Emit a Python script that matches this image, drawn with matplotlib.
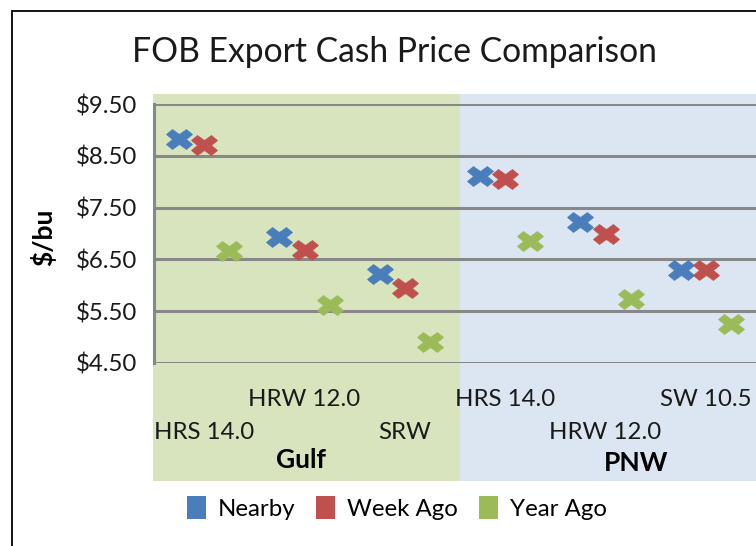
import matplotlib
matplotlib.use('Agg')
import matplotlib.pyplot as plt
from matplotlib.patches import Rectangle, Patch
from matplotlib.markers import MarkerStyle
from matplotlib.transforms import Affine2D

plt.rcParams['font.family'] = ['Lato', 'DejaVu Sans']

# data
classes = ['HRS 14.0', 'HRW 12.0', 'SRW', 'HRS 14.0', 'HRW 12.0', 'SW 10.5']
regions = ['Gulf', 'PNW']
nearby = [8.82, 6.93, 6.22, 8.12, 7.23, 6.30]
week_ago = [8.71, 6.69, 5.94, 8.06, 6.99, 6.30]
year_ago = [6.66, 5.61, 4.90, 6.86, 5.74, 5.25]
yticks = [4.5, 5.5, 6.5, 7.5, 8.5, 9.5]

series = [('Nearby', nearby, '#4A7EBB', -0.25),
          ('Week Ago', week_ago, '#C0504D', 0.0),
          ('Year Ago', year_ago, '#9BBB59', 0.25)]

W, H = 756, 546
fig = plt.figure(figsize=(W / 100, H / 100), dpi=100)

def fx(px):
    return px / W

def fy(py):
    return 1 - py / H

# outer chart border (cropped on the right and bottom)
fig.patches.append(Rectangle((fx(11.5), fy(560)), fx(800), fy(10.5) - fy(560),
                             transform=fig.transFigure, fill=False,
                             edgecolor='black', linewidth=1.3, zorder=-5))
# region backgrounds
fig.patches.append(Rectangle((fx(153), fy(480.7)), fx(460) - fx(153), fy(93.5) - fy(480.7),
                             transform=fig.transFigure, facecolor='#D7E4BD',
                             edgecolor='none', zorder=-5))
fig.patches.append(Rectangle((fx(460), fy(480.7)), fx(800) - fx(460), fy(93.5) - fy(480.7),
                             transform=fig.transFigure, facecolor='#DCE6F2',
                             edgecolor='none', zorder=-5))

ax = fig.add_axes([fx(154), fy(362.7), fx(756) - fx(154), fy(104.3) - fy(362.7)])
ax.set_facecolor('none')
ax.set_zorder(2)

mk = MarkerStyle('X', transform=Affine2D().scale(1.25, 1.0))
for name, vals, col, off in series:
    ax.plot([i + off for i in range(len(vals))], vals, linestyle='none',
            marker=mk, markersize=15, color=col, markeredgecolor=col,
            markeredgewidth=0.5, label=name, zorder=3, clip_on=False)

ax.set_xlim(-0.5, len(classes) - 0.5)
ax.set_ylim(yticks[0], yticks[-1])
ax.set_yticks(yticks)
ax.set_yticklabels(['${:.2f}'.format(v) for v in yticks], fontsize=17.3, color='#1a1a1a')
ax.set_xticks([])
ax.tick_params(axis='y', length=0, pad=12)
ax.grid(axis='y', color='#888888', linewidth=2.2)
ax.set_axisbelow(True)
for s in ['top', 'right', 'bottom']:
    ax.spines[s].set_visible(False)
ax.spines['left'].set_color('#888888')
ax.spines['left'].set_linewidth(2.2)

# staggered category labels
trans = ax.get_xaxis_transform()
for i, lab in enumerate(classes):
    yy = -0.1416 if i % 2 == 1 else -0.271
    ax.text(i, yy, lab, transform=trans, ha='center', va='center',
            fontsize=17.3, color='#1a1a1a')

fig.text(fx(301), fy(459.5), regions[0], ha='center', va='center',
         fontsize=19, fontweight='bold')
fig.text(fx(636), fy(463), regions[1], ha='center', va='center',
         fontsize=19, fontweight='bold')

fig.text(fx(43), fy(237), '$/bu', rotation=90, ha='center', va='center',
         fontsize=19, fontweight='bold')
fig.text(fx(394), fy(52), 'FOB Export Cash Price Comparison', ha='center',
         va='center', fontsize=24.2, color='#1a1a1a')

handles = [Patch(facecolor=c, edgecolor='none', label=n) for n, _, c, _ in series]
fig.legend(handles=handles, loc='center', bbox_to_anchor=(fx(397), fy(508)),
           ncol=3, frameon=False, fontsize=17.3, handlelength=0.8,
           handleheight=1.1, handletextpad=0.5, columnspacing=0.85)

fig.savefig('out.png', dpi=100)
